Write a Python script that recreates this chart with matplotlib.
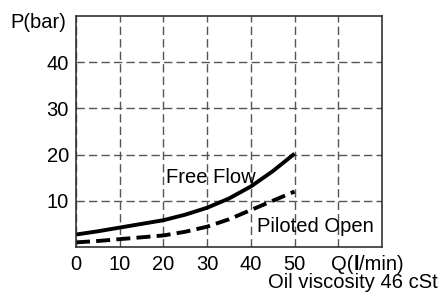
import matplotlib.pyplot as plt

plt.rcParams['font.family'] = ['Liberation Sans', 'DejaVu Sans']

q = [0, 5, 10, 15, 20, 25, 30, 35, 40, 45, 50]
free_flow = [2.7, 3.4, 4.2, 5.0, 5.8, 7.0, 8.5, 10.5, 13.1, 16.4, 20.2]
piloted_open = [1.0, 1.3, 1.7, 2.1, 2.5, 3.3, 4.4, 6.0, 8.0, 10.0, 12.0]
xticks = [0, 10, 20, 30, 40, 50, 60]
xlabels = ['0', '10', '20', '30', '40', '50', '']
yticks = [10, 20, 30, 40]

fs = 14.5
fig = plt.figure(figsize=(4.4, 2.98), dpi=100)
ax = fig.add_axes([76 / 440, 1 - 247 / 298, (382 - 76) / 440, (247 - 16) / 298])

ax.plot(q, free_flow, color='black', lw=2.8, solid_capstyle='butt')
ax.plot(q, piloted_open, color='black', lw=2.8, dashes=(3.6, 1.6), dash_capstyle='butt')

ax.set_xlim(0, 70)
ax.set_ylim(0, 50)
ax.set_xticks(xticks)
ax.set_xticklabels(xlabels)
ax.set_yticks(yticks)
ax.tick_params(length=0, labelsize=fs)
ax.tick_params(axis='x', pad=6)
ax.tick_params(axis='y', pad=5)
ax.grid(True, color='#555555', lw=1.0, dashes=(6, 3))
for s in ax.spines.values():
    s.set_color('#333333')
    s.set_linewidth(1.2)

ax.text(20.5, 15.0, 'Free Flow', fontsize=fs, va='center', ha='left')
ax.text(41.4, 4.5, 'Piloted Open', fontsize=fs, va='center', ha='left')

fig.text(10 / 440, 1 - 22 / 298, 'P(bar)', fontsize=fs, va='center', ha='left')

# Q(l/min) with a bold "l"
r = fig.canvas.get_renderer()
x0 = 331
y0 = 1 - 265 / 298
for part, w in [('Q(', 'normal'), ('l', 'bold'), ('/min)', 'normal')]:
    t = fig.text(x0 / 440, y0, part, fontsize=fs, va='center', ha='left', fontweight=w)
    x0 += t.get_window_extent(r).width
fig.text(438 / 440, 1 - 283 / 298, 'Oil viscosity 46 cSt', fontsize=fs, va='center', ha='right')

fig.savefig('out.png', dpi=100)
